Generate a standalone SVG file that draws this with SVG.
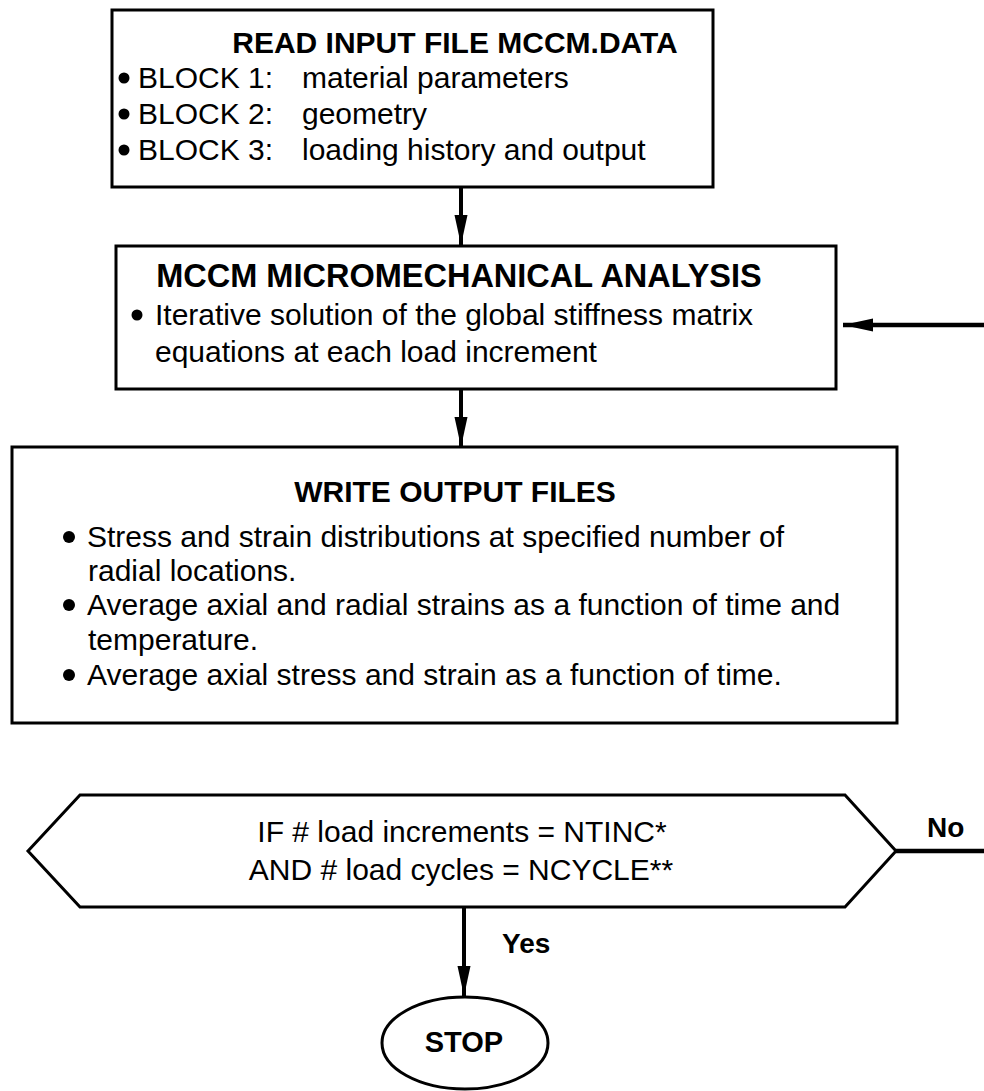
<svg xmlns="http://www.w3.org/2000/svg" width="984" height="1091" viewBox="0 0 984 1091">
<style>
.box{fill:#fff;stroke:#000;stroke-width:3}
.t{font-family:"Liberation Sans",Arial,sans-serif;font-size:30px;fill:#000}
.b{font-family:"Liberation Sans",Arial,sans-serif;font-weight:bold;fill:#000}
.c{stroke:#000;stroke-width:4;fill:none}
.thick{stroke:#000;stroke-width:4.5;fill:none}
</style>
<defs>
<marker id="ah" markerUnits="userSpaceOnUse" markerWidth="30" markerHeight="16" refX="30" refY="8" orient="auto">
<path d="M0,1.5 L30,8 L0,14.5 Z" fill="#000"/>
</marker>
</defs>
<rect width="984" height="1091" fill="#fff"/>
<g id="connectors">
<line class="c" x1="461" y1="187" x2="461" y2="245" marker-end="url(#ah)"/>
<line class="c" x1="461" y1="389" x2="461" y2="447" marker-end="url(#ah)"/>
<line class="thick" x1="984" y1="325" x2="843" y2="325" marker-end="url(#ah)"/>
<line class="c" x1="464" y1="907" x2="464" y2="996" marker-end="url(#ah)"/>
<line class="thick" x1="896" y1="851" x2="984" y2="851"/>
<text class="b" x="927" y="837" font-size="28">No</text>
<text class="b" x="502" y="953" font-size="28">Yes</text>
</g>
<g id="read-input">
<rect class="box" x="112" y="10" width="601" height="177"/>
<text class="b" x="455" y="53" font-size="30" text-anchor="middle">READ INPUT FILE MCCM.DATA</text>
<circle cx="124" cy="78" r="5.5"/>
<text class="t" x="138" y="88">BLOCK 1:</text><text class="t" x="302" y="88">material parameters</text>
<circle cx="124" cy="114" r="5.5"/>
<text class="t" x="138" y="124">BLOCK 2:</text><text class="t" x="302" y="124">geometry</text>
<circle cx="124" cy="150" r="5.5"/>
<text class="t" x="138" y="160">BLOCK 3:</text><text class="t" x="302" y="160">loading history and output</text>
</g>
<g id="analysis">
<rect class="box" x="116" y="246" width="720" height="143"/>
<text class="b" x="459" y="287" font-size="32.5" text-anchor="middle">MCCM MICROMECHANICAL ANALYSIS</text>
<circle cx="137" cy="315" r="5.5"/>
<text class="t" x="155" y="325">Iterative solution of the global stiffness matrix</text>
<text class="t" x="155" y="362">equations at each load increment</text>
</g>
<g id="write-output">
<rect class="box" x="12" y="447" width="885" height="276"/>
<text class="b" x="455" y="502" font-size="30" text-anchor="middle">WRITE OUTPUT FILES</text>
<circle cx="69" cy="537" r="6"/>
<text class="t" x="87" y="547">Stress and strain distributions at specified number of</text>
<text class="t" x="88" y="581">radial locations.</text>
<circle cx="69" cy="605" r="6"/>
<text class="t" x="87" y="615">Average axial and radial strains as a function of time and</text>
<text class="t" x="88" y="650">temperature.</text>
<circle cx="69" cy="675" r="6"/>
<text class="t" x="87" y="685">Average axial stress and strain as a function of time.</text>
</g>
<g id="decision">
<polygon class="box" points="28,851 80,795 845,795 896,851 845,907 80,907"/>
<text class="t" x="462" y="842" font-size="32.5" text-anchor="middle">IF # load increments = NTINC*</text>
<text class="t" x="461" y="880" font-size="32.5" text-anchor="middle">AND # load cycles = NCYCLE**</text>
</g>
<g id="stop">
<ellipse class="box" cx="465" cy="1043" rx="83" ry="46"/>
<text class="b" x="464" y="1052" font-size="29" text-anchor="middle">STOP</text>
</g>
</svg>
